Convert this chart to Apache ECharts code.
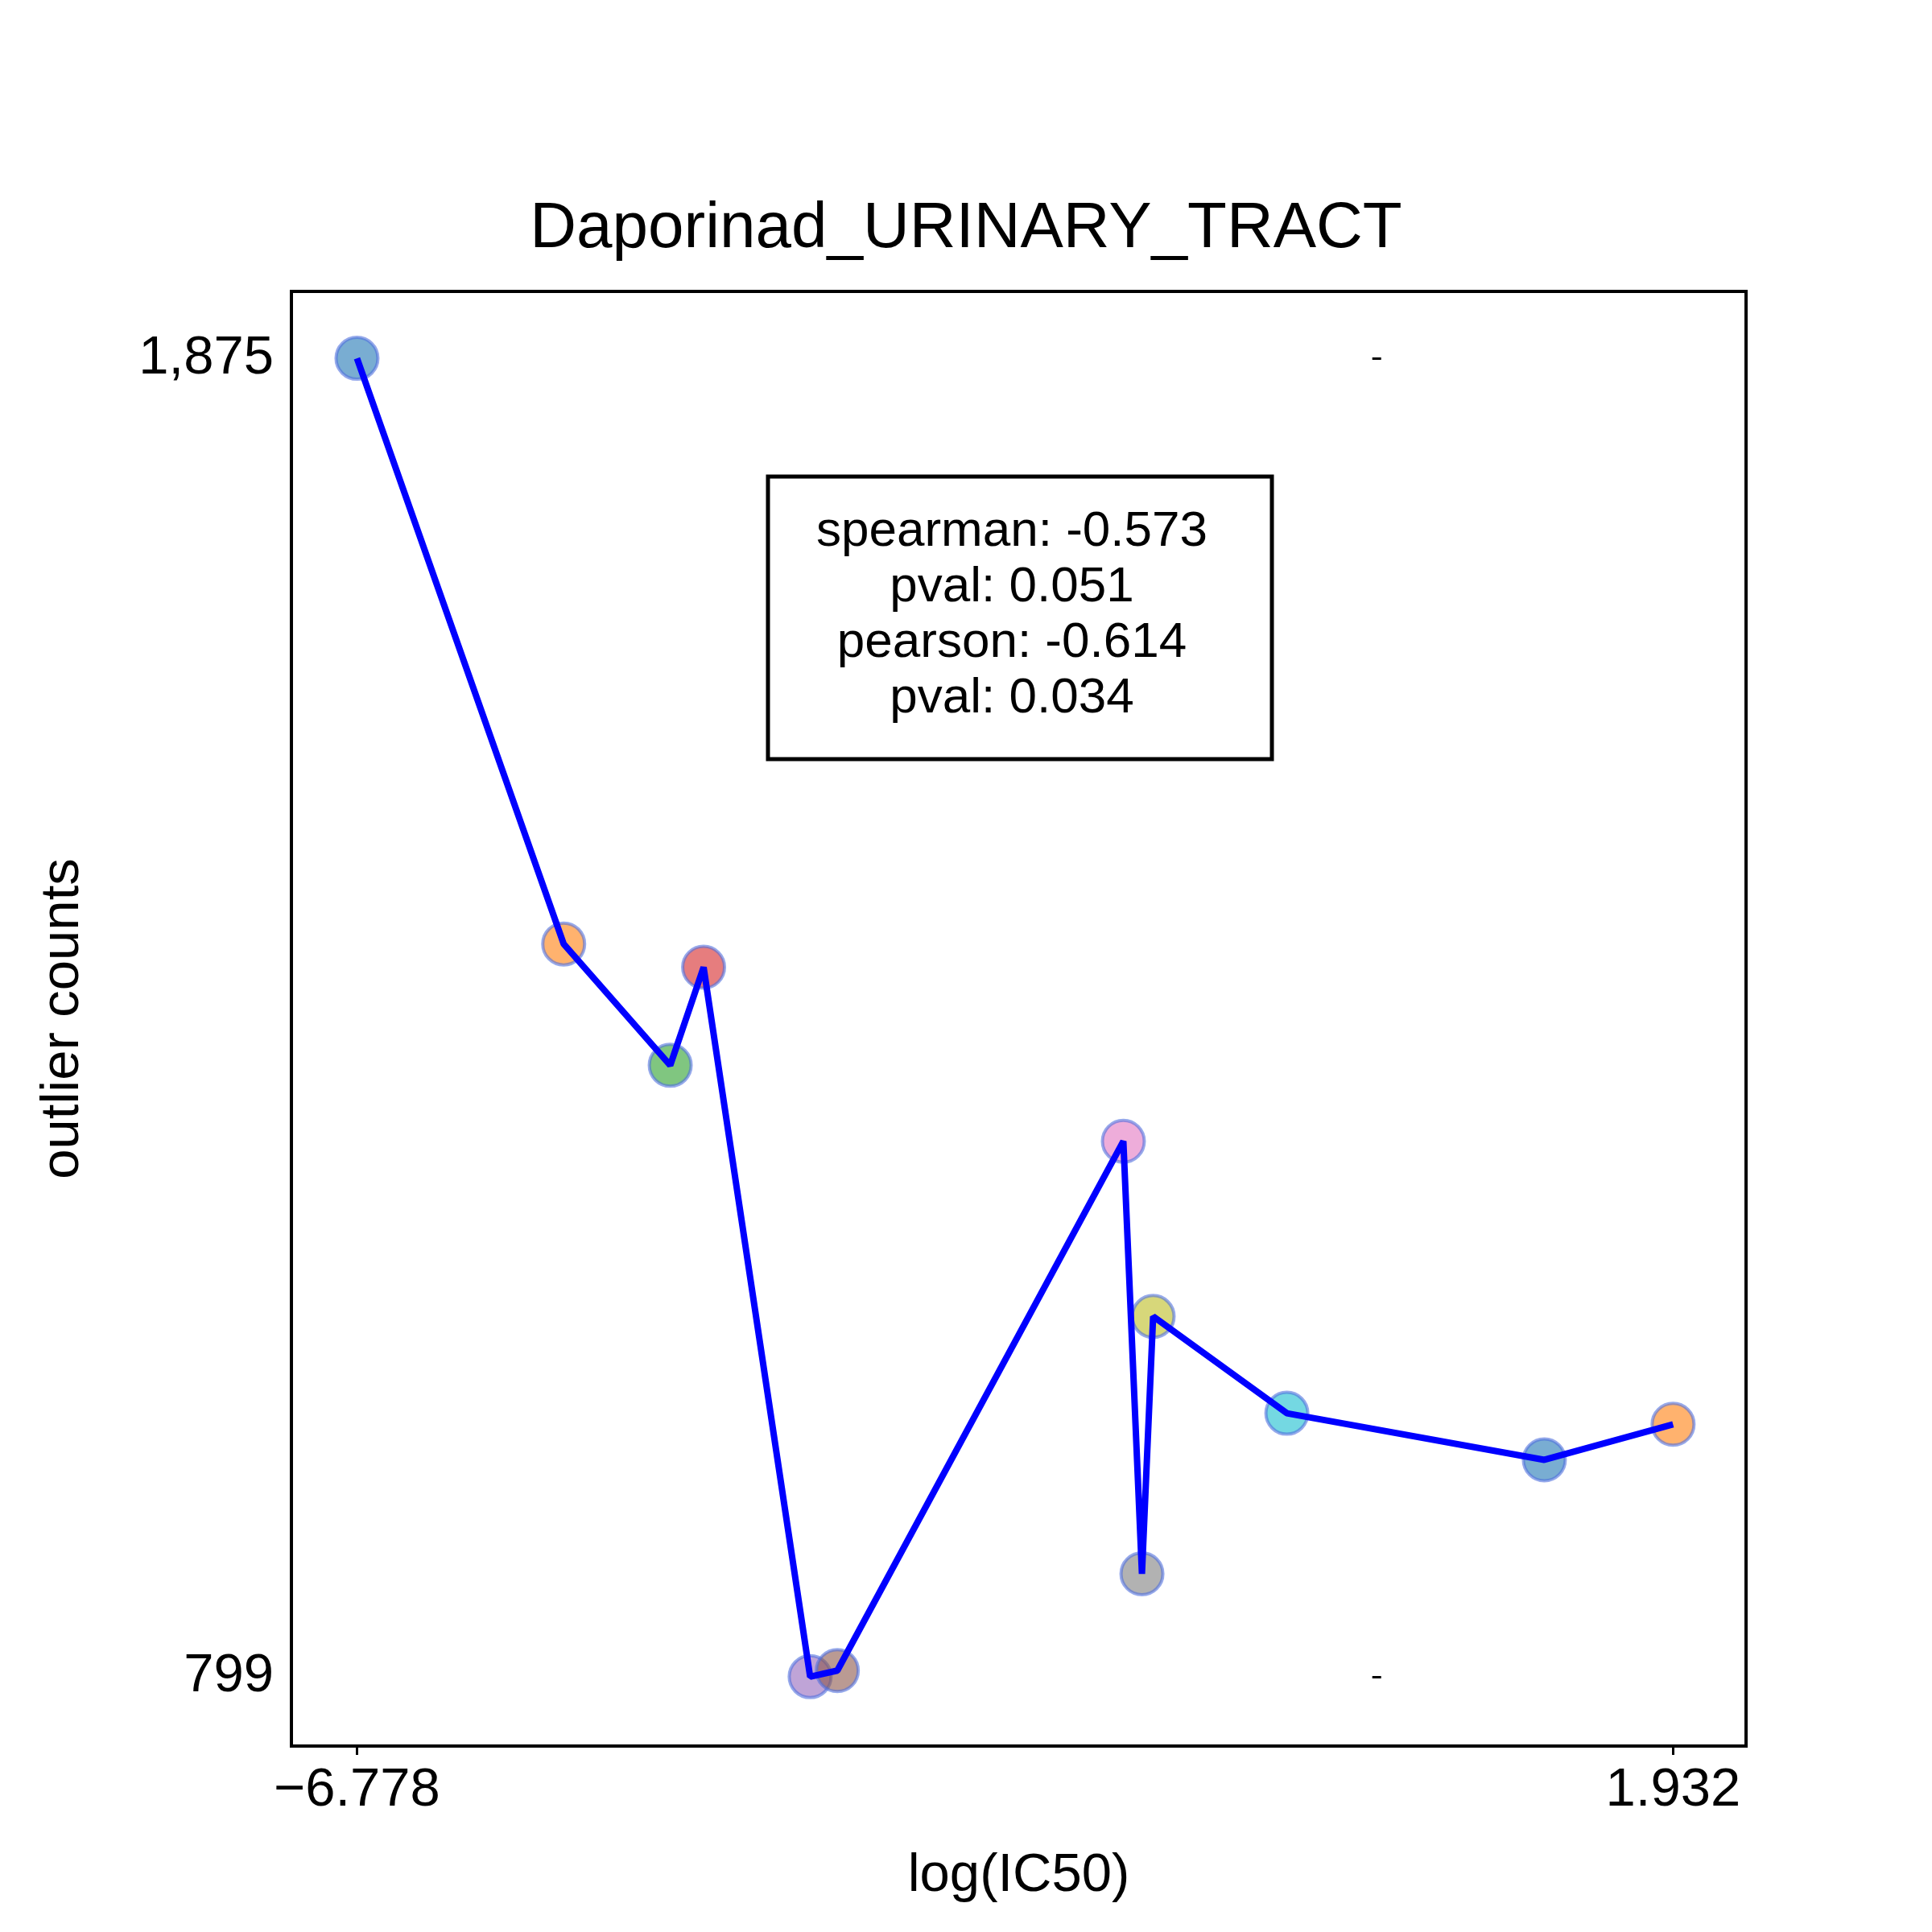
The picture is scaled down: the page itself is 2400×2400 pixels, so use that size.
<!DOCTYPE html>
<html>
<head>
<meta charset="utf-8">
<script src="https://cdn.jsdelivr.net/npm/echarts@6/dist/echarts.min.js"></script>
<style>html,body{margin:0;padding:0;background:#fff}#chart{width:2400px;height:2400px}</style>
</head>
<body>
<div id="chart"></div>
<script>
var logIC50 = [-6.778, -5.410, -4.705, -4.484, -3.779, -3.599, -1.706, -1.583, -1.509, -0.624, 1.080, 1.932];
var outlierCounts = [1875, 1397, 1298, 1378, 799, 804, 1236, 883, 1093, 1014, 976, 1005];
var pointColors = ['#1f77b4', '#ff7f0e', '#2ca02c', '#d62728', '#9467bd', '#8c564b', '#e377c2', '#7f7f7f', '#bcbd22', '#17becf', '#1f77b4', '#ff7f0e'];
var xTicks = [-6.778, 1.932];
var yTicks = [799, 1875];
var statsLines = ['spearman: -0.573', 'pval: 0.051', 'pearson: -0.614', 'pval: 0.034'];

var chart = echarts.init(document.getElementById('chart'));
var font = 'Liberation Sans, Arial, sans-serif';
var pts = logIC50.map(function (x, i) { return [x, outlierCounts[i]]; });

var option = {
  backgroundColor: '#fff',
  animation: false,
  title: {
    text: 'Daporinad_URINARY_TRACT', left: 'center', top: 240,
    textStyle: { fontFamily: font, fontSize: 80, fontWeight: 'normal', color: '#000' }
  },
  grid: { left: 362, top: 362, width: 1807, height: 1807, show: true, borderColor: '#000', borderWidth: 4, backgroundColor: 'transparent' },
  xAxis: {
    type: 'value', min: -7.212, max: 2.415,
    name: 'log(IC50)', nameLocation: 'middle', nameGap: 128,
    nameTextStyle: { fontFamily: font, fontSize: 67, color: '#000' },
    axisLine: { show: false }, splitLine: { show: false },
    axisTick: { show: true, length: 11, lineStyle: { color: '#000', width: 3 }, customValues: xTicks },
    axisLabel: { fontFamily: font, fontSize: 67, color: '#000', margin: 22, customValues: xTicks,
      formatter: function (v) { return String(v).replace('-', '\u2212'); } }
  },
  yAxis: {
    type: 'value', min: 742.4, max: 1929.6,
    name: 'outlier counts', nameLocation: 'middle', nameGap: 250,
    nameTextStyle: { fontFamily: font, fontSize: 67, color: '#000' },
    axisLine: { show: false }, splitLine: { show: false },
    axisTick: { show: true, length: 11, lineStyle: { color: '#000', width: 3 }, customValues: yTicks },
    axisLabel: { fontFamily: font, fontSize: 67, color: '#000', margin: 22, customValues: yTicks }
  },
  series: [
    {
      type: 'scatter', data: pts, symbolSize: 52, z: 2,
      itemStyle: {
        opacity: 0.6, borderWidth: 4,
        color: function (p) { return pointColors[p.dataIndex]; },
        borderColor: function (p) { return pointColors[p.dataIndex]; }
      }
    },
    {
      type: 'line', data: pts, showSymbol: false, symbol: 'none', z: 3,
      lineStyle: { color: '#0000ff', width: 8 }
    }
  ],
  graphic: [
    {
      type: 'rect', shape: { x: 954, y: 592, width: 626, height: 351 },
      style: { fill: '#fff', stroke: '#000', lineWidth: 5 }, z: 10
    }
  ].concat(statsLines.map(function (t, i) {
    return {
      type: 'text', x: 1257, y: 661 + i * 69, z: 11,
      style: { text: t, font: '62px ' + font, fill: '#000', textAlign: 'center', textVerticalAlign: 'middle' }
    };
  }))
};
chart.setOption(option);
</script>
</body>
</html>
